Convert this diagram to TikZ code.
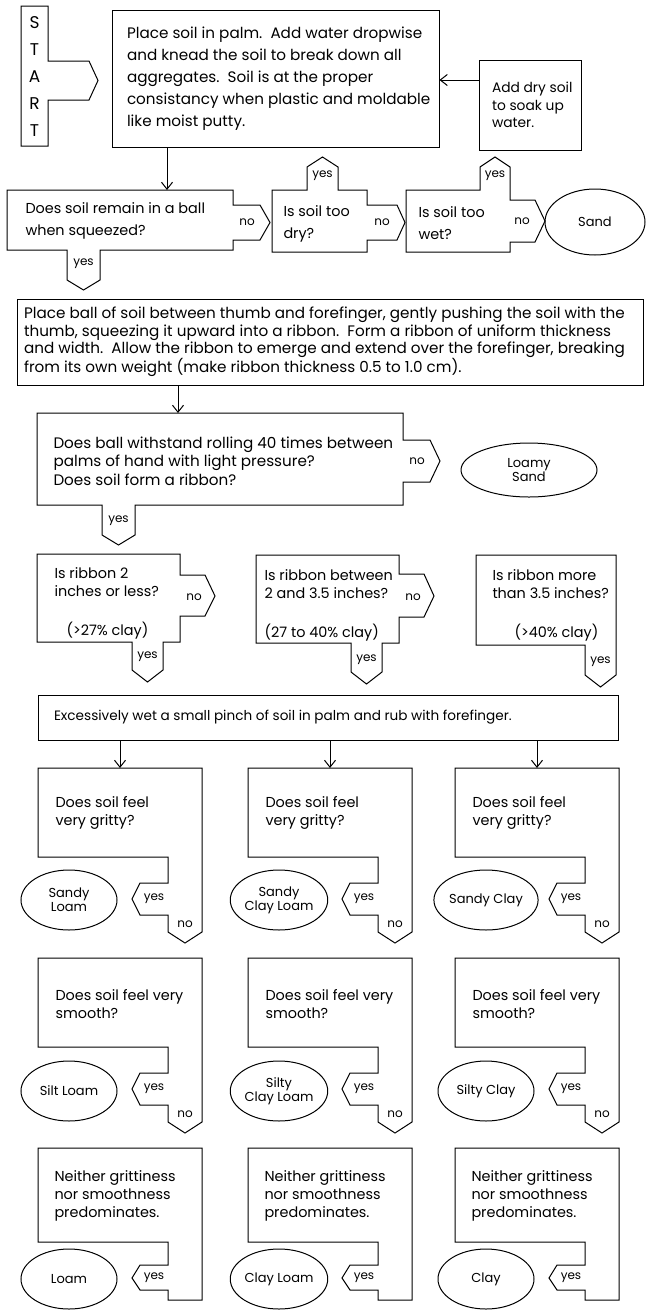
\documentclass[tikz,border=0pt]{standalone}
\usepackage{fontspec}
\setmainfont{Poppins}
\usepackage{tikz}
\usetikzlibrary{arrows.meta,shapes.geometric,positioning,calc}

\begin{document}
\begin{tikzpicture}[x=1pt,y=-1pt,line width=1pt,
	txt/.style={align=left,inner sep=0pt,font=\fontsize{14.4}{18}\selectfont},
	lbl/.style={inner sep=0pt,font=\fontsize{12}{13}\selectfont},
	box/.style={draw,rectangle,inner sep=0pt},
	soil/.style={draw,ellipse,align=center,inner sep=0pt,minimum width=96pt,minimum height=60pt,font=\fontsize{13}{14}\selectfont},
	arr/.style={-{Straight Barb[length=7pt,width=11pt]}}]
	\useasboundingbox (0,0) rectangle (647,1310);

	\draw (21,6) -- (48,6) -- (48,61) -- (89,61) -- (98,80.5) -- (89,100) -- (48,100) -- (48,146) -- (21,146) -- cycle;
	\node[align=center,inner sep=0pt,font=\fontsize{17}{27}\selectfont] (start) at (34.5,76) {S\\T\\A\\R\\T};

	\node[box,minimum width=327pt,minimum height=137pt] (palm) at (275.5,78.5) {};
	\node[txt,anchor=west,font=\fontsize{15.2}{22}\selectfont] (palmtxt) at ([xshift=15pt]palm.west) {Place soil in palm.\ \ Add water dropwise\\and knead the soil to break down all\\aggregates.\ \ Soil is at the proper\\consistancy when plastic and moldable\\like moist putty.};
	\node[box,minimum width=102pt,minimum height=90pt] (drysoil) at (530,105) {};
	\node[txt,anchor=west,font=\fontsize{13.8}{17.5}\selectfont] (drysoiltxt) at ([xshift=13pt]drysoil.west) {Add dry soil\\to soak up\\water.};
	\draw[arr] (drysoil.west |- 0,80) -- (palm.east |- 0,80);

	\coordinate (ballN) at (167,190);
	\draw[arr] (palm.south -| ballN) -- (ballN);
	\draw (7,190) -- (233,190) -- (233,205) -- (260,205) -- (270,222.5) -- (260,240) -- (233,240) -- (233,250) -- (100,250) -- (100,280) -- (83.5,290) -- (67,280) -- (67,250) -- (7,250) -- cycle;
	\node[txt,anchor=west,font=\fontsize{14.4}{22}\selectfont] (ball) at (25,221) {Does soil remain in a ball\\when squeezed?};
	\node[lbl] (ballno) at (247,222.5) {no};
	\node[lbl] (ballyes) at (83.5,264) {yes};

	\draw (272,190) -- (307,190) -- (307,167) -- (322.5,157) -- (338,167) -- (338,190) -- (367,190) -- (367,205) -- (397,205) -- (405,222.5) -- (397,240) -- (367,240) -- (367,252) -- (272,252) -- cycle;
	\node[txt,anchor=west,font=\fontsize{14.4}{22}\selectfont] (dry) at (283,223.5) {Is soil too\\dry?};
	\node[lbl] (dryyes) at (322.5,176) {yes};
	\node[lbl] (dryno) at (382,222.5) {no};

	\draw (406,190) -- (480,190) -- (480,167) -- (495,157) -- (510,167) -- (510,200) -- (535,200) -- (545,221) -- (535,242) -- (510,242) -- (510,252) -- (406,252) -- cycle;
	\node[txt,anchor=west,font=\fontsize{14.4}{22}\selectfont] (wet) at (418,223.5) {Is soil too\\wet?};
	\node[lbl] (wetyes) at (495,176) {yes};
	\node[lbl] (wetno) at (522,221) {no};
	\node[soil,minimum width=100pt,minimum height=66pt] (sand) at (595,222) {Sand};

	\node[box,minimum width=626pt,minimum height=86pt] (ribbon) at (330,342) {};
	\node[txt,anchor=west,font=\fontsize{15.2}{17.5}\selectfont] (ribbontxt) at ([xshift=7pt]ribbon.west) {Place ball of soil between thumb and forefinger, gently pushing the soil with the\\thumb, squeezing it upward into a ribbon.\ \ Form a ribbon of uniform thickness\\and width.\ \ Allow the ribbon to emerge and extend over the forefinger, breaking\\from its own weight (make ribbon thickness 0.5 to 1.0 cm).};

	\coordinate (rollN) at (178,413);
	\draw[arr] (ribbon.south -| rollN) -- (rollN);
	\draw (37,413) -- (403,413) -- (403,440) -- (430,440) -- (440,461) -- (430,482) -- (403,482) -- (403,505) -- (135,505) -- (135,535) -- (118.5,545) -- (102,535) -- (102,505) -- (37,505) -- cycle;
	\node[txt,anchor=west,font=\fontsize{15.2}{18.5}\selectfont] (roll) at (53,461) {Does ball withstand rolling 40 times between\\palms of hand with light pressure?\\Does soil form a ribbon?};
	\node[lbl] (rollno) at (417,461) {no};
	\node[lbl] (rollyes) at (118.5,521) {yes};
	\node[soil,minimum width=136pt,minimum height=54pt] (loamysand) at (529,470) {Loamy\\Sand};

	\draw (37,554) -- (180,554) -- (180,575) -- (205,575) -- (215,596) -- (205,616) -- (180,616) -- (180,642) -- (163,642) -- (163,670) -- (147.5,682) -- (132,670) -- (132,642) -- (37,642) -- cycle;
	\node[txt,anchor=west] (short) at (54,582) {Is ribbon 2\\inches or less?};
	\node[txt,anchor=west] (shortclay) at (66,631) {(>27\% clay)};
	\node[lbl] (shortno) at (194,597) {no};
	\node[lbl] (shortyes) at (147.5,657) {yes};

	\draw (256,555) -- (399,555) -- (399,574) -- (424,574) -- (434,596) -- (424,617) -- (399,617) -- (399,643) -- (382,643) -- (382,672) -- (366.5,684) -- (351,672) -- (351,643) -- (256,643) -- cycle;
	\node[txt,anchor=west] (medium) at (264,584) {Is ribbon between\\2 and 3.5 inches?};
	\node[txt,anchor=west] (mediumclay) at (264,633) {(27 to 40\% clay)};
	\node[lbl] (mediumno) at (413,597) {no};
	\node[lbl] (mediumyes) at (366.5,660) {yes};

	\draw (476,555) -- (616,555) -- (616,675) -- (600.5,687) -- (585,675) -- (585,645) -- (476,645) -- cycle;
	\node[txt,anchor=west] (long) at (492,584.5) {Is ribbon more\\than 3.5 inches?};
	\node[txt,anchor=west] (longclay) at (514,633) {(>40\% clay)};
	\node[lbl] (longyes) at (600.5,662) {yes};

	\node[box,minimum width=580pt,minimum height=45pt] (wetpinch) at (328,717.5) {};
	\node[txt,anchor=west,font=\fontsize{13.6}{18}\selectfont] (wetpinchtxt) at ([xshift=16pt]wetpinch.west) {Excessively wet a small pinch of soil in palm and rub with forefinger.};

	\foreach \L/\c/\ga/\sa/\na in {38/1/{Sandy\\Loam}/{Silt Loam}/{Loam},248/2/{Sandy\\Clay Loam}/{Silty\\Clay Loam}/{Clay Loam},455/3/{Sandy Clay}/{Silty Clay}/{Clay}}{
		\coordinate (grittyN\c) at (\L+82,768);
		\draw[arr] (wetpinch.south -| grittyN\c) -- (grittyN\c);
		\foreach \T/\r in {768/1,958/2}{
			\draw (\L,\T) -- (\L+164,\T) -- (\L+164,\T+164) -- (\L+147,\T+175) -- (\L+130,\T+164) -- (\L+130,\T+147) -- (\L+102,\T+147) -- (\L+94,\T+131) -- (\L+102,\T+115) -- (\L+130,\T+115) -- (\L+130,\T+89) -- (\L,\T+89) -- cycle;
			\node[lbl] (yes\r\c) at (\L+116,\T+131) {yes};
			\node[lbl] (no\r\c) at (\L+147,\T+156) {no};
		}
		\node[txt,anchor=west] (gritty\c) at (\L+17,812.5) {Does soil feel\\very gritty?};
		\node[soil] (sandy\c) at (\L+31,900) {\ga};
		\node[txt,anchor=west] (smooth\c) at (\L+17,1004) {Does soil feel very\\smooth?};
		\node[soil] (silty\c) at (\L+31,1091) {\sa};
		\draw (\L,1148) -- (\L+164,1148) -- (\L+164,1300) -- (\L+130,1300) -- (\L+130,1290) -- (\L+102,1290) -- (\L+94,1278) -- (\L+102,1265) -- (\L+130,1265) -- (\L+130,1242) -- (\L,1242) -- cycle;
		\node[txt,anchor=west] (neither\c) at (\L+16,1196) {Neither grittiness\\nor smoothness\\predominates.};
		\node[lbl] (yes3\c) at (\L+116,1278) {yes};
		\node[soil] (plain\c) at (\L+31,1279) {\na};
	}
\end{tikzpicture}
\end{document}
